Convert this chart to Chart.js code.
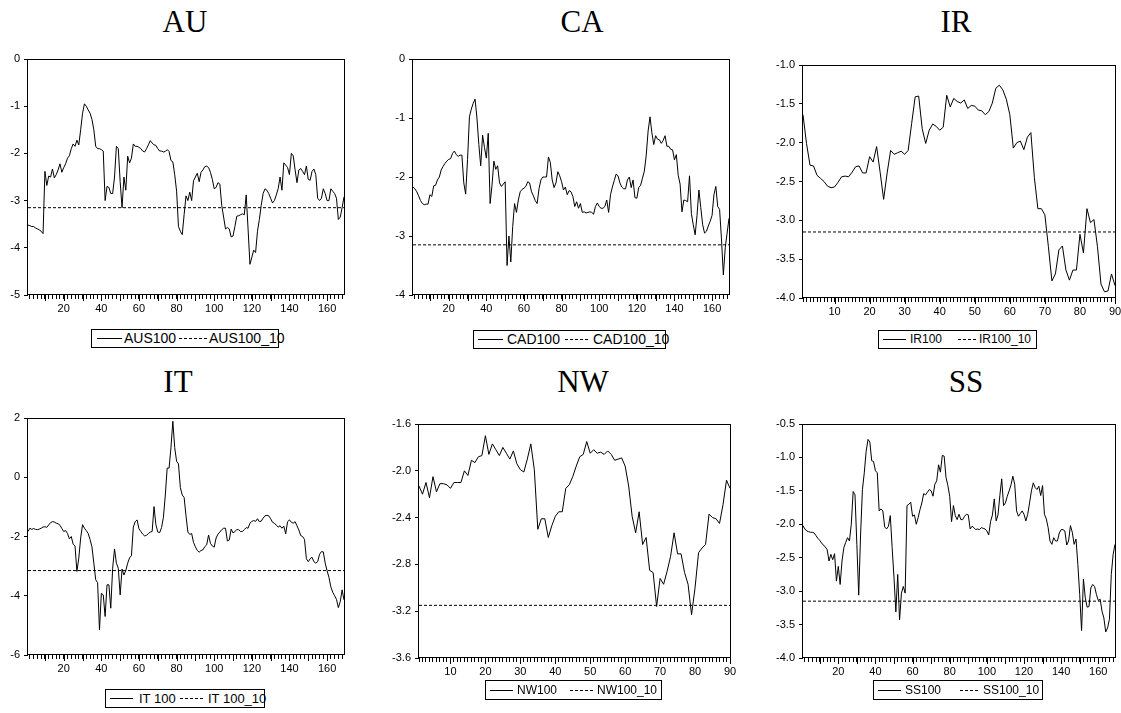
<!DOCTYPE html>
<html>
<head>
<meta charset="utf-8">
<script src="https://cdn.jsdelivr.net/npm/chart.js@4.4.1/dist/chart.umd.min.js"></script>
<style>
  html, body { margin: 0; padding: 0; background: #fff; overflow: hidden; }
  body { width: 1121px; height: 713px; position: relative; }
  canvas { position: absolute; }
  .title { position: absolute; width: 200px; text-align: center; color: #000;
           font-family: "Liberation Serif", "Times New Roman", serif; font-size: 31px; line-height: 31px; }
  .legend { position: absolute; border: 1px solid #000; box-sizing: border-box; color: #000;
            font-family: "Liberation Sans", Arial, sans-serif; }
  .legend span { position: absolute; top: 0; white-space: nowrap; }
  .legend .ln { position: absolute; height: 1px; background: #000; }
  .legend .dash { background: repeating-linear-gradient(to right, #000 0 3px, transparent 3px 5px); }
</style>
</head>
<body>
<script>
const au100 = [
  -3.52, -3.53, -3.55, -3.55, -3.58, -3.60, -3.62, -3.65, -3.70, -2.38,
  -2.68, -2.48, -2.50, -2.33, -2.52, -2.45, -2.35, -2.22, -2.40, -2.30,
  -2.22, -2.10, -2.05, -1.90, -1.80, -1.85, -1.72, -1.82, -1.50, -1.15,
  -0.95, -1.00, -1.08, -1.15, -1.28, -1.50, -1.85, -1.90, -1.90, -1.92,
  -1.95, -3.00, -2.70, -2.72, -2.85, -2.85, -2.50, -1.85, -1.90, -2.60,
  -3.15, -2.50, -2.78, -2.06, -2.20, -2.10, -1.80, -1.85, -1.85, -1.87,
  -1.90, -1.95, -1.97, -1.90, -1.82, -1.73, -1.78, -1.82, -1.83, -1.90,
  -1.95, -1.95, -1.97, -1.96, -1.92, -1.96, -2.15, -2.18, -2.45, -2.80,
  -3.55, -3.65, -3.72, -3.30, -2.90, -3.00, -2.82, -3.00, -2.58, -2.50,
  -2.42, -2.60, -2.40, -2.35, -2.28, -2.27, -2.30, -2.40, -2.55, -2.75,
  -2.72, -2.62, -2.65, -3.10, -3.35, -3.60, -3.57, -3.60, -3.77, -3.75,
  -3.55, -3.33, -3.32, -3.30, -3.28, -3.30, -2.88, -3.60, -4.35, -4.20,
  -4.05, -4.10, -3.65, -3.40, -3.10, -2.85, -2.75, -2.78, -2.85, -2.95,
  -3.05, -3.00, -2.88, -2.75, -2.50, -2.78, -2.20, -2.25, -2.30, -2.45,
  -2.00, -2.05, -2.35, -2.62, -2.35, -2.32, -2.38, -2.45, -2.27, -2.55,
  -2.57, -2.38, -2.33, -2.45, -2.95, -3.00, -2.95, -2.75, -2.85, -3.00,
  -3.00, -2.75, -2.80, -2.85, -2.95, -3.40, -3.35, -3.15, -2.92
];
const cad100 = [
  -2.17, -2.20, -2.25, -2.32, -2.40, -2.45, -2.47, -2.46, -2.46, -2.30,
  -2.33, -2.15, -2.14, -2.05, -2.00, -1.88, -1.82, -1.77, -1.73, -1.70,
  -1.69, -1.60, -1.56, -1.62, -1.65, -1.63, -1.63, -2.10, -2.29, -1.70,
  -0.98, -0.85, -0.75, -0.68, -1.00, -1.45, -1.81, -1.29, -1.50, -1.68,
  -1.26, -2.45, -2.14, -1.73, -1.87, -1.81, -2.10, -2.16, -2.12, -2.08,
  -3.50, -3.00, -3.44, -2.84, -2.45, -2.60, -2.39, -2.25, -2.21, -2.19,
  -2.16, -2.08, -2.10, -2.25, -2.32, -2.40, -2.45, -2.20, -2.05, -2.00,
  -2.00, -2.00, -1.66, -1.75, -2.05, -2.18, -2.10, -1.91, -1.98, -2.08,
  -2.22, -2.17, -2.30, -2.23, -2.25, -2.33, -2.50, -2.42, -2.53, -2.45,
  -2.60, -2.59, -2.61, -2.60, -2.59, -2.60, -2.63, -2.50, -2.44, -2.50,
  -2.53, -2.53, -2.50, -2.39, -2.60, -2.30, -2.17, -2.06, -1.95, -1.98,
  -2.10, -2.17, -2.20, -2.20, -2.05, -2.00, -2.18, -2.05, -2.35, -2.36,
  -2.18, -2.14, -2.02, -1.90, -1.63, -1.22, -0.98, -1.25, -1.45, -1.30,
  -1.36, -1.37, -1.43, -1.38, -1.30, -1.48, -1.48, -1.53, -1.54, -1.71,
  -1.62, -1.97, -2.12, -2.59, -2.39, -2.40, -2.42, -1.98, -2.62, -2.81,
  -2.98, -2.65, -2.22, -2.52, -2.81, -2.95, -2.92, -2.83, -2.75, -2.65,
  -2.30, -2.16, -2.50, -2.55, -3.05, -3.66, -3.20, -2.95, -2.70
];
const ir100 = [
  -1.64, -2.01, -2.29, -2.30, -2.42, -2.46, -2.50, -2.56, -2.58, -2.57,
  -2.51, -2.44, -2.43, -2.44, -2.38, -2.31, -2.30, -2.39, -2.39, -2.18,
  -2.25, -2.05, -2.38, -2.73, -2.39, -2.10, -2.15, -2.13, -2.11, -2.15,
  -2.10, -1.75, -1.41, -1.40, -1.82, -2.01, -1.84, -1.76, -1.79, -1.84,
  -1.80, -1.39, -1.54, -1.43, -1.47, -1.49, -1.45, -1.56, -1.52, -1.53,
  -1.58, -1.59, -1.64, -1.60, -1.49, -1.30, -1.26, -1.32, -1.44, -1.64,
  -2.07, -2.00, -1.98, -2.09, -1.93, -1.87, -2.45, -2.85, -2.85, -2.93,
  -3.34, -3.78, -3.69, -3.38, -3.33, -3.64, -3.77, -3.64, -3.64, -3.18,
  -3.42, -2.85, -3.03, -2.99, -3.34, -3.82, -3.92, -3.91, -3.69, -3.84
];
const it100 = [
  -1.83, -1.72, -1.76, -1.73, -1.76, -1.77, -1.75, -1.72, -1.68, -1.67,
  -1.69, -1.61, -1.53, -1.50, -1.51, -1.55, -1.57, -1.62, -1.73, -1.83,
  -1.80, -1.90, -2.08, -2.00, -2.26, -2.32, -3.18, -2.73, -2.05, -1.60,
  -1.72, -1.80, -1.90, -2.10, -2.35, -2.90, -3.46, -3.56, -5.15, -3.92,
  -3.97, -4.70, -3.63, -3.63, -4.42, -3.07, -2.42, -2.90, -3.07, -3.97,
  -3.10, -3.30, -3.15, -2.90, -2.72, -2.65, -1.68, -1.50, -1.44, -1.74,
  -1.83, -1.92, -1.98, -1.96, -1.90, -1.85, -1.83, -0.99, -1.60, -1.85,
  -1.87, -1.70, -1.35, -0.60, 0.31, 0.31, 0.99, 1.89, 1.00, 0.54,
  0.45, -0.35, -0.60, -0.68, -1.30, -1.85, -1.93, -1.90, -2.20, -2.35,
  -2.47, -2.53, -2.47, -2.45, -2.34, -2.28, -1.95, -2.23, -2.32, -2.36,
  -2.05, -1.92, -1.85, -1.77, -1.72, -1.72, -2.15, -2.12, -1.75, -1.88,
  -1.83, -1.77, -1.77, -1.83, -1.83, -1.77, -1.70, -1.72, -1.55, -1.49,
  -1.46, -1.49, -1.40, -1.50, -1.48, -1.38, -1.30, -1.29, -1.30, -1.40,
  -1.52, -1.55, -1.62, -1.68, -1.64, -1.72, -1.65, -1.91, -1.50, -1.44,
  -1.52, -1.55, -1.50, -1.64, -1.78, -1.97, -2.00, -2.10, -2.75, -2.85,
  -2.75, -2.70, -2.85, -2.90, -2.85, -2.60, -2.51, -2.52, -2.90, -3.15,
  -3.38, -3.70, -3.88, -4.00, -4.12, -4.40, -4.20, -3.80, -4.14
];
const nw100 = [
  -2.13, -2.20, -2.10, -2.23, -2.05, -2.18, -2.11, -2.11, -2.12, -2.15,
  -2.10, -2.10, -2.10, -2.00, -2.04, -1.91, -1.93, -1.88, -1.87, -1.70,
  -1.86, -1.77, -1.82, -1.87, -1.80, -1.85, -1.90, -1.83, -1.94, -1.99,
  -2.01, -1.90, -1.77, -1.99, -2.50, -2.41, -2.41, -2.57, -2.47, -2.39,
  -2.35, -2.35, -2.15, -2.12, -2.05, -1.96, -1.88, -1.86, -1.75, -1.85,
  -1.82, -1.85, -1.84, -1.86, -1.83, -1.86, -1.91, -1.90, -1.89, -1.96,
  -2.13, -2.39, -2.53, -2.35, -2.63, -2.57, -2.85, -2.87, -3.16, -2.92,
  -2.97, -2.86, -2.73, -2.53, -2.71, -2.71, -2.87, -2.97, -3.23, -3.00,
  -2.70, -2.66, -2.63, -2.37, -2.40, -2.41, -2.45, -2.29, -2.08, -2.15
];
const ss100 = [
  -2.02, -2.07, -2.10, -2.11, -2.12, -2.12, -2.13, -2.17, -2.21, -2.24,
  -2.28, -2.31, -2.34, -2.38, -2.55, -2.45, -2.53, -2.44, -2.85, -2.63,
  -2.90, -2.55, -2.35, -2.27, -2.20, -2.25, -2.00, -1.51, -1.56, -2.30,
  -3.06, -2.16, -1.48, -1.23, -0.91, -0.73, -0.77, -1.05, -1.06, -1.20,
  -1.23, -1.80, -1.77, -1.80, -2.04, -2.07, -2.03, -1.87, -2.35, -2.80,
  -3.31, -2.75, -3.43, -3.03, -2.93, -3.03, -1.72, -1.70, -1.67, -1.88,
  -1.86, -2.00, -1.90, -1.78, -1.68, -1.54, -1.56, -1.52, -1.48, -1.50,
  -1.58, -1.40, -1.35, -1.11, -1.22, -0.97, -0.98, -1.30, -1.42, -1.58,
  -1.96, -1.72, -1.87, -1.93, -1.85, -1.93, -1.93, -1.88, -1.85, -1.86,
  -2.07, -2.03, -2.05, -2.08, -2.07, -2.08, -2.05, -2.06, -2.07, -2.10,
  -2.16, -1.96, -1.86, -1.62, -1.95, -1.86, -1.57, -1.32, -1.72, -1.68,
  -1.58, -1.50, -1.41, -1.28, -1.40, -1.80, -1.88, -1.84, -1.80, -1.85,
  -1.95, -1.85, -1.68, -1.50, -1.38, -1.45, -1.48, -1.43, -1.57, -1.42,
  -1.85, -1.92, -2.05, -2.25, -2.30, -2.20, -2.25, -2.25, -2.13, -2.08,
  -2.08, -2.10, -2.31, -2.25, -2.02, -2.12, -2.30, -2.22, -2.60, -3.05,
  -3.59, -2.82, -3.10, -3.24, -3.23, -2.95, -2.90, -2.93, -3.05, -3.14,
  -3.12, -3.30, -3.40, -3.61, -3.55, -3.42, -2.75, -2.45, -2.30
];
// 10% critical value, drawn as the dashed series
const crit10 = -3.15;

// tick labels
const auYTicks = [-5, -4, -3, -2, -1, 0];
const caYTicks = [-4, -3, -2, -1, 0];
const irYTicks = [-4.0, -3.5, -3.0, -2.5, -2.0, -1.5, -1.0];
const itYTicks = [-6, -4, -2, 0, 2];
const nwYTicks = [-3.6, -3.2, -2.8, -2.4, -2.0, -1.6];
const ssYTicks = [-4.0, -3.5, -3.0, -2.5, -2.0, -1.5, -1.0, -0.5];
const xLabelsLong = [20, 40, 60, 80, 100, 120, 140, 160];
const xLabelsShort = [10, 20, 30, 40, 50, 60, 70, 80, 90];

// layout: plot box [left, top, right, bottom], title centre/top, legend pieces
const panels = [
  { title: "AU", values: au100, names: ["AUS100", "AUS100_10"], yTicks: auYTicks, dec: 0,
    xLabels: xLabelsLong, minor: 2, plot: [28, 59, 344, 295], tx: 185, ty: 6,
    lg: { box: [91, 329, 188, 19], fs: 14, solid: [97, 122], t1: 124, dash: [179, 207], t2: 209 } },
  { title: "CA", values: cad100, names: ["CAD100", "CAD100_10"], yTicks: caYTicks, dec: 0,
    xLabels: xLabelsLong, minor: 2, plot: [413, 59, 729, 295], tx: 582, ty: 6,
    lg: { box: [473, 330, 193, 19], fs: 14, solid: [478, 503], t1: 507, dash: [565, 590], t2: 593 } },
  { title: "IR", values: ir100, names: ["IR100", "IR100_10"], yTicks: irYTicks, dec: 1,
    xLabels: xLabelsShort, minor: 1, plot: [803, 65, 1115, 298], tx: 956, ty: 6,
    lg: { box: [878, 330, 159, 19], fs: 12, solid: [883, 906], t1: 910, dash: [958, 976], t2: 979 } },
  { title: "IT", values: it100, names: ["IT 100", "IT 100_10"], yTicks: itYTicks, dec: 0,
    xLabels: xLabelsLong, minor: 2, plot: [28, 418, 344, 655], tx: 178, ty: 366,
    lg: { box: [105, 689, 160, 19], fs: 13, solid: [110, 133], t1: 139, dash: [180, 205], t2: 208 } },
  { title: "NW", values: nw100, names: ["NW100", "NW100_10"], yTicks: nwYTicks, dec: 1,
    xLabels: xLabelsShort, minor: 1, plot: [419, 424, 730, 658], tx: 583, ty: 366,
    lg: { box: [485, 680, 177, 20], fs: 12, solid: [490, 513], t1: 517, dash: [570, 593], t2: 597 } },
  { title: "SS", values: ss100, names: ["SS100", "SS100_10"], yTicks: ssYTicks, dec: 1,
    xLabels: xLabelsLong, minor: 2, plot: [803, 424, 1115, 658], tx: 966, ty: 366,
    lg: { box: [873, 680, 170, 20], fs: 12, solid: [878, 901], t1: 905, dash: [960, 980], t2: 983 } }
];

const Y_AXIS_W = 40;
const X_AXIS_H = 26;
const PAD = 12;

// box round the plot, plus the longer ticks at every tenth observation
const framePlugin = {
  id: "frame",
  afterDraw(chart) {
    const { ctx, chartArea: a } = chart;
    const xs = chart.scales.x;
    ctx.save();
    ctx.strokeStyle = "#000";
    ctx.lineWidth = 1;
    ctx.strokeRect(Math.round(a.left) - 0.5, Math.round(a.top) + 0.5,
      Math.round(a.right - a.left) + 1, Math.round(a.bottom - a.top) - 1);
    ctx.beginPath();
    xs.ticks.forEach(t => {
      if (t.value % 10 !== 0) return;
      const px = Math.round(xs.getPixelForValue(t.value)) + 0.5;
      ctx.moveTo(px, Math.round(a.bottom));
      ctx.lineTo(px, Math.round(a.bottom) + 6);
    });
    ctx.stroke();
    ctx.restore();
  }
};

function addDiv(cls, style, text) {
  const d = document.createElement("div");
  d.className = cls;
  Object.assign(d.style, style);
  if (text) d.textContent = text;
  document.body.appendChild(d);
  return d;
}

function drawLegend(p) {
  const { box, fs, solid, t1, dash, t2 } = p.lg;
  const [bx, by, bw, bh] = box;
  const wrap = addDiv("legend", { left: bx + "px", top: by + "px", width: bw + "px", height: bh + "px", fontSize: fs + "px" });
  const mid = Math.floor((bh - 2) / 2);
  const part = (cls, x1, x2) => {
    const s = document.createElement("div");
    s.className = cls;
    Object.assign(s.style, { left: (x1 - bx - 1) + "px", width: (x2 - x1) + "px", top: mid + "px" });
    wrap.appendChild(s);
  };
  const label = (x, txt) => {
    const s = document.createElement("span");
    s.textContent = txt;
    Object.assign(s.style, { left: (x - bx - 1) + "px", lineHeight: (bh - 2) + "px" });
    wrap.appendChild(s);
  };
  part("ln", solid[0], solid[1]);
  label(t1, p.names[0]);
  part("ln dash", dash[0], dash[1]);
  label(t2, p.names[1]);
}

function drawPanel(p) {
  const [L, T, R, B] = p.plot;
  const n = p.values.length;
  const canvas = document.createElement("canvas");
  canvas.width = R - L + Y_AXIS_W + PAD;
  canvas.height = B - T + PAD + X_AXIS_H;
  canvas.style.left = (L - Y_AXIS_W) + "px";
  canvas.style.top = (T - PAD) + "px";
  document.body.appendChild(canvas);

  addDiv("title", { left: (p.tx - 100) + "px", top: p.ty + "px" }, p.title);
  drawLegend(p);

  const tickFont = { family: "'Liberation Sans', Arial, sans-serif", size: 11 };

  new Chart(canvas, {
    type: "line",
    data: {
      datasets: [
        { label: p.names[0], data: p.values.map((v, i) => ({ x: i + 1, y: v })),
          borderColor: "#000", borderWidth: 1, pointRadius: 0, tension: 0 },
        { label: p.names[1], data: [{ x: 1, y: crit10 }, { x: n, y: crit10 }],
          borderColor: "#000", borderWidth: 1, borderDash: [3, 2], pointRadius: 0 }
      ]
    },
    options: {
      responsive: false,
      animation: false,
      events: [],
      layout: { padding: { left: 0, top: PAD, right: PAD, bottom: 0 }, autoPadding: false },
      plugins: { legend: { display: false }, tooltip: { enabled: false } },
      scales: {
        x: {
          type: "linear",
          min: 1,
          max: n,
          border: { display: false },
          grid: { drawOnChartArea: false, drawTicks: true, tickLength: 4, color: "#000" },
          ticks: {
            autoSkip: false, maxRotation: 0, minRotation: 0, padding: 3, color: "#000", font: tickFont,
            callback: v => (p.xLabels.includes(v) ? String(v) : "")
          },
          afterBuildTicks: axis => {
            const t = [];
            for (let v = p.minor; v <= n; v += p.minor) t.push({ value: v });
            axis.ticks = t;
          },
          afterFit: axis => { axis.height = X_AXIS_H; }
        },
        y: {
          min: p.yTicks[0],
          max: p.yTicks[p.yTicks.length - 1],
          border: { display: false },
          grid: { drawOnChartArea: false, drawTicks: true, tickLength: 4, color: "#000" },
          ticks: {
            padding: 4, color: "#000", font: tickFont,
            callback: v => Number(v).toFixed(p.dec)
          },
          afterBuildTicks: axis => { axis.ticks = p.yTicks.map(v => ({ value: v })); },
          afterFit: axis => { axis.width = Y_AXIS_W; }
        }
      }
    },
    plugins: [framePlugin]
  });
}

window.addEventListener("load", () => {
  panels.forEach(drawPanel);
});
</script>
</body>
</html>
